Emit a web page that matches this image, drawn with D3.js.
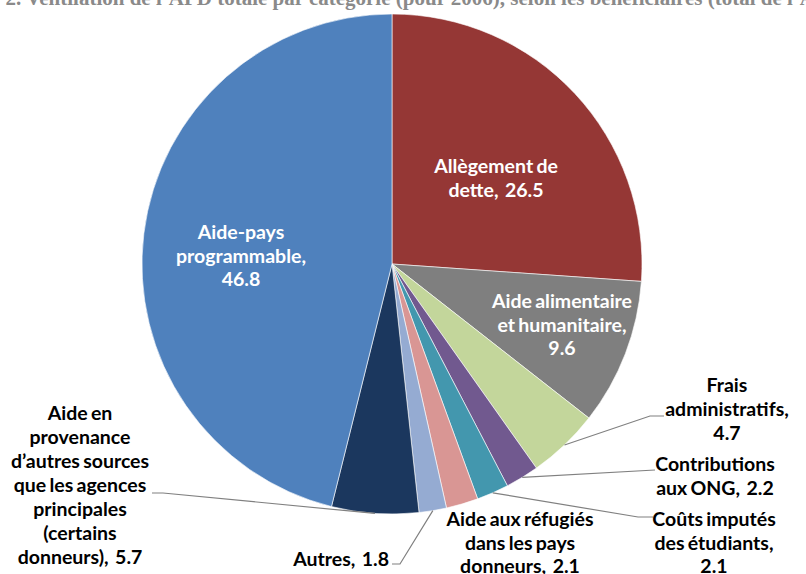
<!DOCTYPE html>
<html><head><meta charset="utf-8">
<script src="https://cdn.jsdelivr.net/npm/d3@7"></script>
<style>
html,body{margin:0;padding:0;background:#fff;}
svg{display:block;}
</style></head>
<body>
<svg id="chart" width="806" height="574"></svg>
<script>
// ---- data ----
const categories = [
  "Allègement de dette",
  "Aide alimentaire et humanitaire",
  "Frais administratifs",
  "Contributions aux ONG",
  "Coûts imputés des étudiants",
  "Aide aux réfugiés dans les pays donneurs",
  "Autres",
  "Aide en provenance d’autres sources que les agences principales (certains donneurs)",
  "Aide-pays programmable"
];
const values = [26.5, 9.6, 4.7, 2.2, 2.1, 2.1, 1.8, 5.7, 46.8];
const labelLines = [
  ["Allègement de", "dette,\u00a0 26.5"],
  ["Aide alimentaire", "et humanitaire,", "9.6"],
  ["Frais", "administratifs,", "4.7"],
  ["Contributions", "aux ONG,\u00a0 2.2"],
  ["Coûts imputés", "des étudiants,", "2.1"],
  ["Aide aux réfugiés", "dans les pays", "donneurs,\u00a0 2.1"],
  ["Autres,\u00a0 1.8"],
  ["Aide en", "provenance", "d’autres sources", "que les agences", "principales", "(certains", "donneurs),\u00a0 5.7"],
  ["Aide-pays", "programmable,", "46.8"]
];
const colors = ["#953735", "#7f7f7f", "#c3d69b", "#71598f", "#4397ae", "#d99694", "#95abd2", "#1b375e", "#4f81bd"];
const titleText = "Graphique 2. Ventilation de l’APD totale par catégorie (pour 2006), selon les bénéficiaires (total de l’APD = 100)";

// ---- layout ----
const cx = 392, cy = 264, R = 250;
// label placement: [x, baseline of first line, anchor, inside?, line height]
const labelPos = [
  [496, 173, "middle", true, 23.5],
  [562, 308, "middle", true, 23.5],
  [727, 392, "middle", false, 24],
  [715, 471, "middle", false, 24],
  [714, 526, "middle", false, 23.5],
  [520, 526, "middle", false, 23.5],
  [389, 566, "end", false, 24],
  [80, 420, "middle", false, 24],
  [241, 239, "middle", true, 23.5]
];
// leader lines: elbow and end points (null = none)
const leaders = [
  null, null,
  [[650, 416], [664, 416]],
  [[655, 470], [655, 470]],
  [[638, 517], [653, 517]],
  null,
  [[400, 564], [392, 564]],
  [[163, 493], [152, 493]],
  null
];

const svg = d3.select("#chart");

// clipped title at the top
svg.append("text")
  .attr("x", 403).attr("y", 5)
  .attr("text-anchor", "middle")
  .attr("font-family", "Liberation Serif, Times New Roman, serif")
  .attr("font-weight", "bold")
  .attr("font-size", 21)
  .attr("fill", "#8a8a8a")
  .text(titleText);

const pie = d3.pie().sort(null).value(d => d)(values);
const arc = d3.arc().innerRadius(0).outerRadius(R);
const g = svg.append("g").attr("transform", `translate(${cx},${cy})`);

g.selectAll("path.slice").data(pie).join("path")
  .attr("class", "slice")
  .attr("d", arc)
  .attr("fill", (d, i) => colors[i])
  .attr("stroke", "#ffffff")
  .attr("stroke-width", 0.6);

// leader lines
pie.forEach((d, i) => {
  if (!leaders[i]) return;
  const a = (d.startAngle + d.endAngle) / 2;
  const px = cx + R * Math.sin(a), py = cy - R * Math.cos(a);
  const pts = [[px, py], leaders[i][0], leaders[i][1]];
  svg.append("path")
    .attr("d", d3.line()(pts))
    .attr("fill", "none")
    .attr("stroke", "#808080")
    .attr("stroke-width", 1.2);
});

// labels
labelLines.forEach((lines, i) => {
  const [x, y, anchor, inside, lh] = labelPos[i];
  const t = svg.append("text")
    .attr("x", x).attr("y", y)
    .attr("text-anchor", anchor)
    .attr("font-family", "Lato, Carlito, Calibri, sans-serif")
    .attr("font-weight", "bold")
    .attr("font-size", 19.5)
    .attr("word-spacing", -1.5)
    .attr("fill", inside ? "#ffffff" : "#000000");
  lines.forEach((ln, k) => {
    t.append("tspan").attr("x", x).attr("dy", k === 0 ? 0 : lh).text(ln);
  });
});
</script>
</body></html>
